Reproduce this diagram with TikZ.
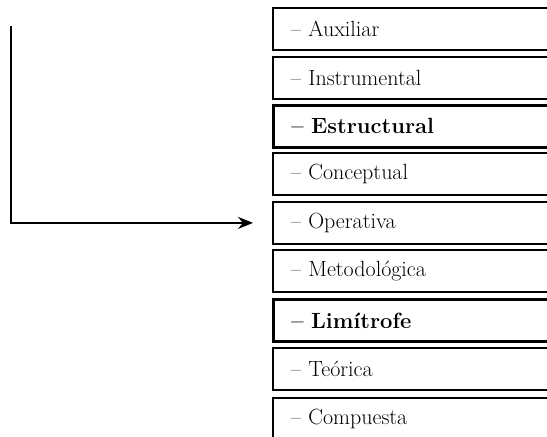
\documentclass[tikz,border=0pt]{standalone}
\usetikzlibrary{arrows.meta}
\begin{document}
\begin{tikzpicture}[x=1pt,y=-1pt,
    caja/.style={draw,line width=1.8pt,anchor=north west,minimum height=42pt,
      text width=290pt,inner xsep=18pt,align=left,font=\fontsize{22}{24}\selectfont},
    gruesa/.style={line width=2.8pt,font=\fontsize{22}{24}\selectfont\bfseries}]
    \useasboundingbox (0,0) rectangle (547,437);
    \node[caja] (c1) at (272,7) {-- Auxiliar};
    \node[caja] (c2) at (272,56) {-- Instrumental};
    \node[caja,gruesa] (c3) at (272,104) {-- Estructural};
    \node[caja] (c4) at (272,152) {-- Conceptual};
    \node[caja] (c5) at (272,201) {-- Operativa};
    \node[caja] (c6) at (272,249) {-- Metodológica};
    \node[caja,gruesa] (c7) at (272,298) {-- Limítrofe};
    \node[caja] (c8) at (272,347) {-- Teórica};
    \node[caja] (c9) at (272,397) {-- Compuesta};
    \coordinate (ini) at (11,26);
    \draw[line width=1.8pt,-{Stealth[length=15pt,width=12pt]}] (ini) |- ([xshift=-19pt]c5.west);
\end{tikzpicture}
\end{document}
